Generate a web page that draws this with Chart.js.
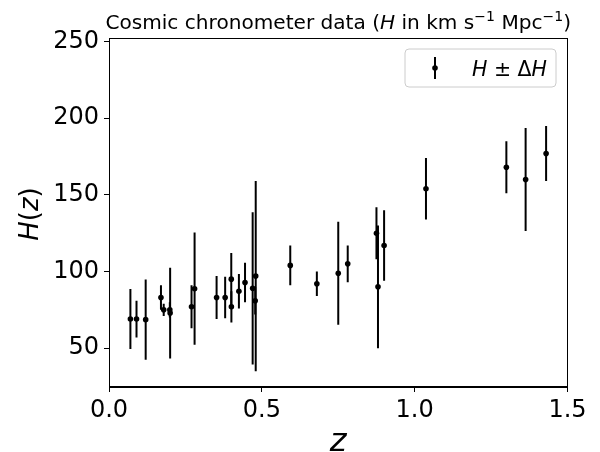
<!DOCTYPE html>
<html>
<head>
<meta charset="utf-8">
<script src="https://cdn.jsdelivr.net/npm/chart.js@4.4.1/dist/chart.umd.min.js"></script>
<style>
html,body{margin:0;padding:0;background:#fff;}
#wrap{width:600px;height:452px;position:relative;}
</style>
</head>
<body>
<div id="wrap"><canvas id="c" width="600" height="452"></canvas></div>
<script>
// Data (cosmic chronometers)
const zValues = [0.07,0.09,0.12,0.17,0.179,0.199,0.2,0.27,0.28,0.352,0.38,0.4,0.4004,0.425,0.445,0.47,0.4783,0.48,0.593,0.68,0.75,0.781,0.875,0.88,0.9,1.037,1.3,1.363,1.43];
const hValues = [69,69,68.6,83,75,75,72.9,77,88.8,83,83,95,77,87.1,92.8,89,80.9,97,104,92,98.8,105,125,90,117,154,168,160,177];
const hErrors = [19.6,12,26.2,8,4,5,29.6,14,36.6,14,13.5,17,10.2,11.2,12.9,49.6,9,62,13,8,33.6,12,17,40,23,20,17,33.6,18];
const xTicks = [0, 0.5, 1.0, 1.5];
const yTicks = [50, 100, 150, 200, 250];
const titleRuns = [
  {t:"Cosmic chronometer data (", s:"n"},
  {t:"H", s:"i"},
  {t:" in km s", s:"n"},
  {t:"\u22121", s:"sup"},
  {t:" Mpc", s:"n"},
  {t:"\u22121", s:"sup"},
  {t:")", s:"n"}
];
const legendRuns = [
  {t:"H", s:"i"},
  {t:" \u00B1 ", s:"n"},
  {t:"\u0394", s:"n"},
  {t:"H", s:"i"}
];
const xLabelRuns = [ {t:"z", s:"i"} ];
const yLabelRuns = [ {t:"H", s:"i"}, {t:"(", s:"n"}, {t:"z", s:"i"}, {t:")", s:"n"} ];

const FONT = "'DejaVu Sans', sans-serif";

function runFont(r, size){
  if (r.s === "i") return "oblique " + size + "px " + FONT;
  if (r.s === "sup") return (size*0.7).toFixed(2) + "px " + FONT;
  return size + "px " + FONT;
}
function runsWidth(ctx, runs, size){
  let w = 0;
  for (const r of runs){ ctx.font = runFont(r, size); w += ctx.measureText(r.t).width; }
  return w;
}
function drawRuns(ctx, runs, size, x, baseline){
  let cx = x;
  ctx.textAlign = "left";
  ctx.textBaseline = "alphabetic";
  for (const r of runs){
    ctx.font = runFont(r, size);
    const dy = r.s === "sup" ? -size*0.42 : 0;
    ctx.fillText(r.t, cx, baseline + dy);
    cx += ctx.measureText(r.t).width;
  }
}

const errorBarPlugin = {
  id: "errorBars",
  beforeDatasetsDraw(chart){
    const ctx = chart.ctx, xs = chart.scales.x, ys = chart.scales.y, a = chart.chartArea;
    ctx.save();
    ctx.beginPath();
    ctx.rect(a.left, a.top, a.right - a.left, a.bottom - a.top);
    ctx.clip();
    ctx.strokeStyle = "#000";
    ctx.lineWidth = 2;
    ctx.lineCap = "butt";
    for (let i = 0; i < zValues.length; i++){
      const px = xs.getPixelForValue(zValues[i]);
      const y1 = ys.getPixelForValue(hValues[i] - hErrors[i]);
      const y2 = ys.getPixelForValue(hValues[i] + hErrors[i]);
      ctx.beginPath();
      ctx.moveTo(px, y1);
      ctx.lineTo(px, y2);
      ctx.stroke();
    }
    ctx.restore();
  },
  afterDraw(chart){
    const ctx = chart.ctx, a = chart.chartArea;
    ctx.save();
    // frame (all four spines)
    ctx.strokeStyle = "#000";
    ctx.lineWidth = 1;
    ctx.strokeRect(Math.round(a.left) + 0.5, Math.round(a.top) + 0.5, Math.round(a.right - a.left) - 1, Math.round(a.bottom - a.top) - 1);

    ctx.fillStyle = "#000";
    const cx = (a.left + a.right) / 2;

    // title with mixed fonts
    let ts = 17.5;
    ts = ts * 466 / runsWidth(ctx, titleRuns, ts);
    const tw = runsWidth(ctx, titleRuns, ts);
    drawRuns(ctx, titleRuns, ts, cx - tw/2, 29);

    // x axis label
    const xs = 32;
    const xw = runsWidth(ctx, xLabelRuns, xs);
    drawRuns(ctx, xLabelRuns, xs, cx - xw/2, 450.5);

    // y axis label (rotated)
    const ysz = 26;
    const yw = runsWidth(ctx, yLabelRuns, ysz);
    const cy = (a.top + a.bottom) / 2 + 1.5;
    ctx.save();
    ctx.translate(37.5, cy);
    ctx.rotate(-Math.PI/2);
    drawRuns(ctx, yLabelRuns, ysz, -yw/2, 0);
    ctx.restore();

    // legend
    const lx = 405, ly = 49, lw = 151, lh = 38, rr = 4;
    ctx.beginPath();
    ctx.moveTo(lx + rr, ly);
    ctx.arcTo(lx + lw, ly, lx + lw, ly + lh, rr);
    ctx.arcTo(lx + lw, ly + lh, lx, ly + lh, rr);
    ctx.arcTo(lx, ly + lh, lx, ly, rr);
    ctx.arcTo(lx, ly, lx + lw, ly, rr);
    ctx.closePath();
    ctx.fillStyle = "rgba(255,255,255,0.8)";
    ctx.fill();
    ctx.strokeStyle = "#cccccc";
    ctx.lineWidth = 1;
    ctx.stroke();
    // legend handle: error bar with dot
    ctx.strokeStyle = "#000";
    ctx.lineWidth = 2;
    ctx.beginPath();
    ctx.moveTo(435, 57);
    ctx.lineTo(435, 79);
    ctx.stroke();
    ctx.fillStyle = "#000";
    ctx.beginPath();
    ctx.arc(435, 68, 2.8, 0, Math.PI*2);
    ctx.fill();
    // legend text
    let ls = 20;
    ls = ls * 75 / runsWidth(ctx, legendRuns, ls);
    drawRuns(ctx, legendRuns, ls, 472, 75.5);
    ctx.restore();
  }
};

const points = zValues.map((z, i) => ({x: z, y: hValues[i]}));

new Chart(document.getElementById("c"), {
  type: "scatter",
  data: {
    datasets: [{
      label: "H \u00B1 \u0394H",
      data: points,
      pointRadius: 2.8,
      pointHoverRadius: 2.8,
      pointBackgroundColor: "#000",
      pointBorderWidth: 0,
      showLine: false
    }]
  },
  options: {
    responsive: false,
    animation: false,
    events: [],
    layout: { padding: { left: 0, right: 32.5, top: 38, bottom: 0 } },
    plugins: { legend: { display: false }, title: { display: false }, tooltip: { enabled: false } },
    scales: {
      x: {
        type: "linear",
        min: 0, max: 1.5,
        afterBuildTicks(s){ s.ticks = xTicks.map(v => ({value: v})); },
        afterFit(s){ s.height = 65; },
        ticks: {
          color: "#000",
          font: { family: FONT, size: 24 },
          padding: 4,
          maxRotation: 0,
          callback: v => Number(v).toFixed(1)
        },
        grid: { display: true, drawOnChartArea: false, drawTicks: true, tickLength: 5, color: "#000", lineWidth: 1 },
        border: { display: true, color: "#000", width: 1 },
        title: { display: false }
      },
      y: {
        type: "linear",
        min: 24.65, max: 252.35,
        afterBuildTicks(s){ s.ticks = yTicks.map(v => ({value: v})); },
        afterFit(s){ s.width = 109; },
        ticks: {
          color: "#000",
          font: { family: FONT, size: 24 },
          padding: 5,
          callback: v => String(v)
        },
        grid: { display: true, drawOnChartArea: false, drawTicks: true, tickLength: 5, color: "#000", lineWidth: 1 },
        border: { display: true, color: "#000", width: 1 },
        title: { display: false }
      }
    }
  },
  plugins: [errorBarPlugin]
});
</script>
</body>
</html>
